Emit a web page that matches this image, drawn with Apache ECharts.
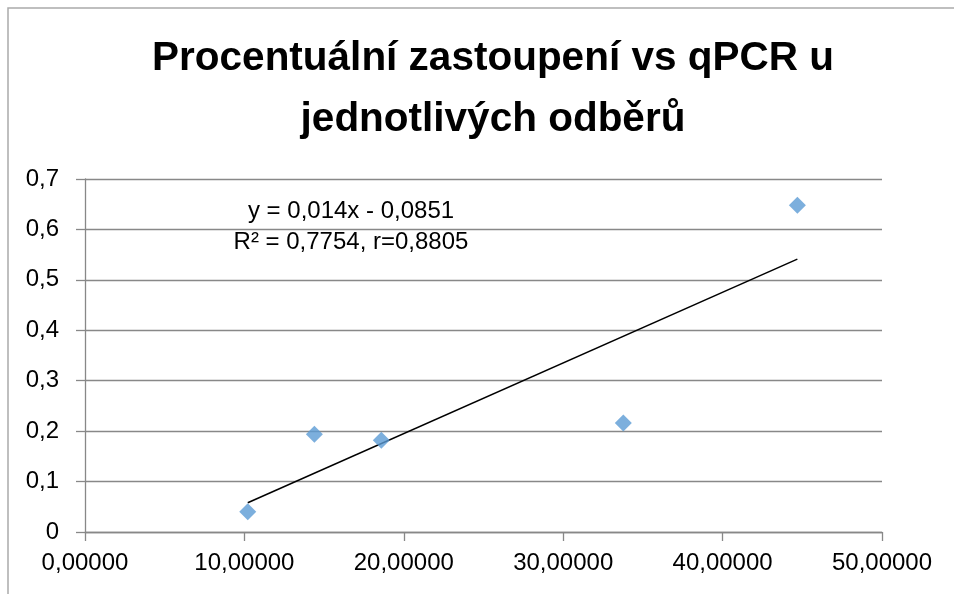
<!DOCTYPE html>
<html>
<head>
<meta charset="utf-8">
<script src="https://cdn.jsdelivr.net/npm/echarts@6/dist/echarts.min.js"></script>
<style>
html,body{margin:0;padding:0;background:#fff;}
#chart{width:954px;height:594px;}
</style>
</head>
<body>
<div id="chart"></div>
<script>
// Data
const xValues = [10.21, 14.39, 18.59, 33.77, 44.69];
const yValues = [0.040, 0.194, 0.182, 0.216, 0.648];
const trendX = [10.21, 44.69];
const trendY = [0.058, 0.541];
const titleLines = ['Procentuální zastoupení vs qPCR u', 'jednotlivých odběrů'];
const annotationLines = ['y = 0,014x - 0,0851', 'R² = 0,7754, r=0,8805'];
const xTicks = [0, 10, 20, 30, 40, 50];
const yTicks = [0, 0.1, 0.2, 0.3, 0.4, 0.5, 0.6, 0.7];

const chart = echarts.init(document.getElementById('chart'));
const font = '"Liberation Sans", Arial, sans-serif';
const axisGrey = '#888888';

chart.setOption({
  backgroundColor: '#ffffff',
  animation: false,
  title: {
    text: titleLines.join('\n'),
    left: 488,
    top: 23,
    textAlign: 'center',
    textStyle: {
      fontFamily: font,
      fontWeight: 'bold',
      fontSize: 40.5,
      lineHeight: 61,
      color: '#000'
    }
  },
  grid: { left: 85, right: 72, top: 179, bottom: 62, containLabel: false },
  xAxis: {
    type: 'value',
    min: xTicks[0],
    max: xTicks[xTicks.length - 1],
    interval: 10,
    axisLine: { show: true, lineStyle: { color: axisGrey, width: 1.3 } },
    axisTick: { show: true, length: 9, inside: false, lineStyle: { color: axisGrey, width: 1.3 } },
    splitLine: { show: false },
    axisLabel: {
      margin: 19,
      fontFamily: font,
      fontSize: 24,
      color: '#000',
      formatter: v => v.toFixed(5).replace('.', ',')
    }
  },
  yAxis: {
    type: 'value',
    min: yTicks[0],
    max: yTicks[yTicks.length - 1],
    interval: 0.1,
    axisLine: { show: true, lineStyle: { color: axisGrey, width: 1.3 } },
    axisTick: { show: true, length: 9, inside: false, lineStyle: { color: axisGrey, width: 1.3 } },
    splitLine: { show: true, lineStyle: { color: axisGrey, width: 1.3 } },
    axisLabel: {
      margin: 26,
      fontFamily: font,
      fontSize: 24,
      color: '#000',
      formatter: v => {
        const r = Math.round(v * 10) / 10;
        return r === 0 ? '0' : String(r).replace('.', ',');
      }
    }
  },
  graphic: [
    {
      type: 'rect',
      shape: { x: 8, y: 8, width: 1000, height: 700 },
      style: { fill: 'none', stroke: '#ababab', lineWidth: 1.5 },
      z: 0, silent: true
    },
    {
      type: 'text',
      x: 351, y: 196,
      style: {
        text: annotationLines.join('\n'),
        fontFamily: font, fontSize: 24, lineHeight: 31,
        fill: '#000', align: 'center', verticalAlign: 'top'
      },
      z: 10
    }
  ],
  series: [
    {
      type: 'line',
      data: trendX.map((x, i) => [x, trendY[i]]),
      symbol: 'none',
      lineStyle: { color: '#000', width: 1.5 },
      z: 3,
      silent: true
    },
    {
      type: 'scatter',
      data: xValues.map((x, i) => [x, yValues[i]]),
      symbol: 'diamond',
      symbolSize: [17, 17],
      itemStyle: { color: '#5b9bd5' },
      z: 4
    }
  ]
});
</script>
</body>
</html>
